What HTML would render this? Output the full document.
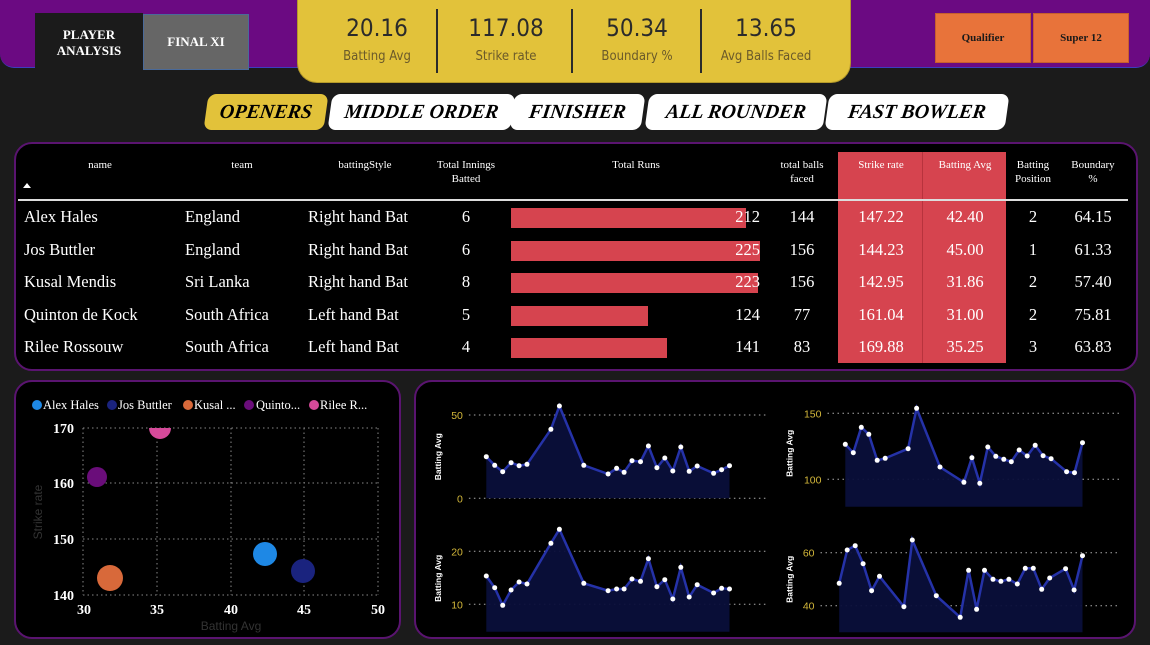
<!DOCTYPE html>
<html><head><meta charset="utf-8"><style>
*{margin:0;padding:0;box-sizing:border-box}
body{width:1150px;height:645px;background:#1b1b1b;position:relative;overflow:hidden;font-family:"Liberation Serif",serif;color:#fff}
.a{position:absolute}
.kpi{position:absolute;top:13px;width:130px;text-align:center;color:#2b2b2b;font-family:"DejaVu Sans Condensed","Liberation Sans",sans-serif}
.kpi b{display:block;font-weight:normal;font-size:24px;line-height:30px}
.kpi span{display:block;font-size:13px;color:#6b5a2a;margin-top:6px}
.sep{position:absolute;top:9px;width:2px;height:64px;background:#2b2b2b}
.btn{position:absolute;top:13px;width:96px;height:50px;background:#e8733a;color:#1a1a1a;font-size:11px;font-weight:bold;display:flex;align-items:center;justify-content:center;border:1px solid #c65f2d}
.tab{position:absolute;top:94px;height:36px;background:#fff;color:#000;border-radius:8px;transform:skewX(-8deg);font-style:italic;font-weight:bold;font-size:20px;display:flex;align-items:center;justify-content:center}
.panel{position:absolute;background:#000;border:2px solid #5a1470;border-radius:18px}
.th{position:absolute;font-size:11px;text-align:center;line-height:14px}
.td{position:absolute;font-size:16.5px}
</style></head><body>
<div class="a" style="left:0;top:0;width:1150px;height:68px;background:#6b0a82;border-radius:0 0 14px 14px;border-bottom:1px solid #3d3dbf"></div>
<div class="a" style="left:35px;top:13px;width:108px;height:57px;background:#1b1b1b;font-weight:bold;font-size:13px;text-align:center;padding-top:14px;line-height:16px">PLAYER<br>ANALYSIS</div>
<div class="a" style="left:143px;top:14px;width:106px;height:56px;background:#666;border:1px solid #4a6a9a;font-weight:bold;font-size:13px;display:flex;align-items:center;justify-content:center">FINAL XI</div>
<div class="a" style="left:297px;top:0;width:554px;height:83px;background:#e2c23a;border-radius:0 0 20px 20px;border:1px solid #b59a2a;border-top:none"></div>
<div class="kpi" style="left:312px"><b>20.16</b><span>Batting Avg</span></div>
<div class="sep" style="left:436px"></div>
<div class="kpi" style="left:441px"><b>117.08</b><span>Strike rate</span></div>
<div class="sep" style="left:571px"></div>
<div class="kpi" style="left:572px"><b>50.34</b><span>Boundary %</span></div>
<div class="sep" style="left:700px"></div>
<div class="kpi" style="left:701px"><b>13.65</b><span>Avg Balls Faced</span></div>
<div class="btn" style="left:935px">Qualifier</div>
<div class="btn" style="left:1033px">Super 12</div>

<div class="tab" style="left:206px;width:120px;background:#e2c23a">OPENERS</div>
<div class="tab" style="left:330px;width:183px">MIDDLE ORDER</div>
<div class="tab" style="left:512px;width:131px">FINISHER</div>
<div class="tab" style="left:647px;width:178px">ALL ROUNDER</div>
<div class="tab" style="left:827px;width:180px">FAST BOWLER</div>

<div class="panel" style="left:14px;top:142px;width:1124px;height:229px"></div>
<div class="a" style="left:838px;top:152px;width:168px;height:211px;background:#d6444f"></div>
<div class="a" style="left:922px;top:152px;width:1px;height:211px;background:#b8333d"></div>
<div class="a" style="left:18px;top:199px;width:1110px;height:2px;background:#ddd"></div>
<div class="th" style="left:60px;top:158px;width:80px">name</div>
<div class="a" style="left:23px;top:183px;width:0;height:0;border-left:4px solid transparent;border-right:4px solid transparent;border-bottom:5px solid #fff"></div>
<div class="th" style="left:202px;top:158px;width:80px">team</div>
<div class="th" style="left:315px;top:158px;width:100px">battingStyle</div>
<div class="th" style="left:423px;top:158px;width:86px">Total Innings<br>Batted</div>
<div class="th" style="left:586px;top:158px;width:100px">Total Runs</div>
<div class="th" style="left:762px;top:158px;width:80px">total balls<br>faced</div>
<div class="th" style="left:840px;top:158px;width:82px">Strike rate</div>
<div class="th" style="left:923px;top:158px;width:84px">Batting Avg</div>
<div class="th" style="left:1008px;top:158px;width:50px">Batting<br>Position</div>
<div class="th" style="left:1060px;top:158px;width:66px">Boundary<br>%</div>

<div id="rows"></div>
<script>
var d=[["Alex Hales","England","Right hand Bat",6,212,144,"147.22","42.40",2,"64.15"],
["Jos Buttler","England","Right hand Bat",6,225,156,"144.23","45.00",1,"61.33"],
["Kusal Mendis","Sri Lanka","Right hand Bat",8,223,156,"142.95","31.86",2,"57.40"],
["Quinton de Kock","South Africa","Left hand Bat",5,124,77,"161.04","31.00",2,"75.81"],
["Rilee Rossouw","South Africa","Left hand Bat",4,141,83,"169.88","35.25",3,"63.83"]];
var h="";d.forEach(function(r,i){var y=207+i*32.5;
h+='<div class="td" style="left:24px;top:'+y+'px">'+r[0]+'</div>';
h+='<div class="td" style="left:185px;top:'+y+'px">'+r[1]+'</div>';
h+='<div class="td" style="left:308px;top:'+y+'px">'+r[2]+'</div>';
h+='<div class="td" style="left:446px;width:40px;text-align:center;top:'+y+'px">'+r[3]+'</div>';
h+='<div class="a" style="left:511px;top:'+(y+1)+'px;height:20px;width:'+(r[4]/225*249)+'px;background:#d6444f"></div>';
h+='<div class="td" style="left:700px;width:60px;text-align:right;top:'+y+'px">'+r[4]+'</div>';
h+='<div class="td" style="left:772px;width:60px;text-align:center;top:'+y+'px">'+r[5]+'</div>';
h+='<div class="td" style="left:840px;width:82px;text-align:center;top:'+y+'px">'+r[6]+'</div>';
h+='<div class="td" style="left:923px;width:84px;text-align:center;top:'+y+'px">'+r[7]+'</div>';
h+='<div class="td" style="left:1008px;width:50px;text-align:center;top:'+y+'px">'+r[8]+'</div>';
h+='<div class="td" style="left:1060px;width:66px;text-align:center;top:'+y+'px">'+r[9]+'</div>';});
document.getElementById("rows").innerHTML=h;
</script>

<div class="panel" style="left:14px;top:380px;width:387px;height:259px"></div>
<svg class="a" style="left:0;top:380px" width="410" height="265" font-family="Liberation Serif, serif">
<g font-size="12.5" fill="#fff">
<circle cx="37" cy="25" r="5" fill="#1e88e5"/><text x="43" y="29">Alex Hales</text>
<circle cx="112" cy="25" r="5" fill="#1a237e"/><text x="118" y="29">Jos Buttler</text>
<circle cx="188" cy="25" r="5" fill="#d8693a"/><text x="194" y="29">Kusal ...</text>
<circle cx="249" cy="25" r="5" fill="#6a0d7a"/><text x="256" y="29">Quinto...</text>
<circle cx="314" cy="25" r="5" fill="#d64a9a"/><text x="320" y="29">Rilee R...</text>
</g>
<g stroke="#888" stroke-dasharray="1.5 3" stroke-width="1">
<line x1="83" y1="48" x2="378" y2="48"/><line x1="83" y1="103" x2="378" y2="103"/><line x1="83" y1="159" x2="378" y2="159"/><line x1="83" y1="215" x2="378" y2="215"/>
<line x1="83" y1="48" x2="83" y2="215"/><line x1="157" y1="48" x2="157" y2="215"/><line x1="231" y1="48" x2="231" y2="215"/><line x1="304" y1="48" x2="304" y2="215"/><line x1="378" y1="48" x2="378" y2="215"/>
</g>
<g font-size="14" fill="#fff" font-weight="bold" text-anchor="end">
<text x="74" y="53">170</text><text x="74" y="108">160</text><text x="74" y="164">150</text><text x="74" y="220">140</text></g>
<g font-size="14" fill="#fff" font-weight="bold" text-anchor="middle">
<text x="84" y="234">30</text><text x="157" y="234">35</text><text x="231" y="234">40</text><text x="304" y="234">45</text><text x="378" y="234">50</text></g>
<text x="231" y="250" font-size="12" fill="#333" text-anchor="middle" font-family="Liberation Sans">Batting Avg</text>
<text transform="translate(42 132) rotate(-90)" font-size="12" fill="#333" text-anchor="middle" font-family="Liberation Sans">Strike rate</text>
<clipPath id="c"><rect x="60" y="48" width="330" height="200"/></clipPath>
<g clip-path="url(#c)">
<circle cx="160" cy="48" r="11" fill="#d64a9a"/>
</g>
<circle cx="97" cy="97" r="10" fill="#6a0d7a"/>
<circle cx="265" cy="174" r="12" fill="#1e88e5"/>
<circle cx="303" cy="191" r="12" fill="#1a237e"/>
<circle cx="110" cy="198" r="13" fill="#d8693a"/>
</svg>

<div class="panel" style="left:414px;top:380px;width:722px;height:259px"></div>
<svg class="a" style="left:415px;top:380px" width="735" height="265" id="lc"></svg>
<script>
var s=document.getElementById("lc"),o="";
var KX=1568/735,KY=3;
function X(v){return (v/KX).toFixed(1)}function Y(v){return (v/KY).toFixed(1)}
var xa=[152,170,187,205,222,239,290,308,360,412,430,446,463,481,498,516,533,550,567,585,602,637,654,671];
var xb=[918,935,952,968,986,1003,1052,1070,1120,1171,1188,1205,1222,1239,1256,1272,1289,1306,1323,1340,1357,1390,1407,1424];
var xc=[905,922,939,956,974,991,1043,1061,1112,1163,1181,1198,1215,1233,1250,1267,1285,1302,1319,1337,1354,1388,1406,1424];
var C=[
[xa,[230,256,275,248,257,253,148,78,256,282,265,277,242,245,198,263,234,273,201,274,258,280,269,257],355,[[105,"50"],[355,"0"]],115,755,230],
[xb,[193,218,142,163,241,235,206,85,261,307,233,310,201,229,238,245,210,228,196,227,236,275,278,188],380,[[100,"150"],[298,"100"]],880,1505,220],
[xa,[588,623,676,630,606,612,490,448,610,632,627,627,597,604,536,620,599,657,562,651,614,639,625,627],755,[[514,"20"],[673,"10"]],115,755,595],
[xc,[610,510,497,551,632,589,680,480,647,712,571,688,571,598,604,598,612,565,565,628,594,566,630,527],757,[[518,"60"],[677,"40"]],865,1505,598]];
C.forEach(function(c){var x=c[0],y=c[1],b=c[2];
c[3].forEach(function(g){o+='<line x1="'+X(c[4])+'" x2="'+X(c[5])+'" y1="'+Y(g[0])+'" y2="'+Y(g[0])+'" stroke="#aaa" stroke-width="1" stroke-dasharray="1.5 3.5"/>';
o+='<text x="'+(X(c[4])-6)+'" y="'+(+Y(g[0])+4)+'" fill="#d4b83a" font-size="10.5" text-anchor="end" font-family="Liberation Sans">'+g[1]+'</text>';});
var p=x.map(function(v,i){return X(v)+","+Y(y[i])}).join(" ");
o+='<polygon points="'+X(x[0])+','+Y(b)+' '+p+' '+X(x[x.length-1])+','+Y(b)+'" fill="#0a0f3a" opacity="0.95"/>';
o+='<polyline points="'+p+'" fill="none" stroke="#2532a8" stroke-width="2.5"/>';
x.forEach(function(v,i){o+='<circle cx="'+X(v)+'" cy="'+Y(y[i])+'" r="2.5" fill="#fff"/>';});
var lx=c[4]<500?X(55):X(805);
o+='<text transform="translate('+lx+' '+Y(c[6])+') rotate(-90)" fill="#fff" font-size="8.5" font-weight="bold" text-anchor="middle" font-family="Liberation Sans">Batting Avg</text>';});
s.innerHTML=o;
</script>
</body></html>
